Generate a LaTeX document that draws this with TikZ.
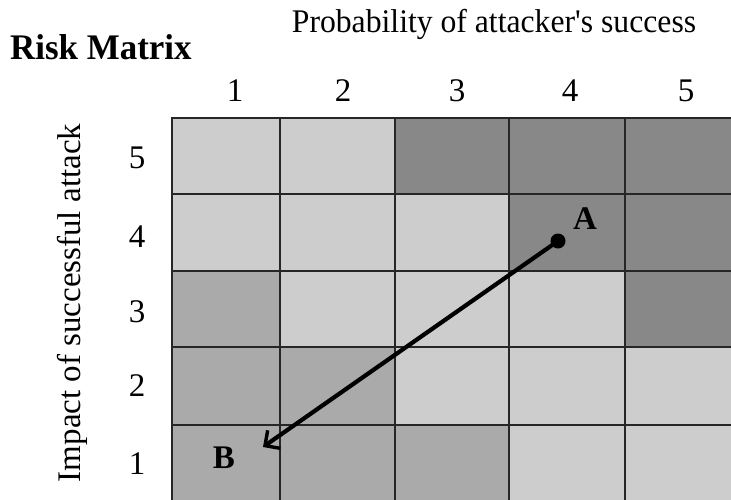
\documentclass[tikz,border=0pt]{standalone}
\usepackage{fontspec}
\setmainfont{Liberation Serif}
\newfontfamily\rawserif{Liberation Serif}
\usetikzlibrary{arrows.meta}
\definecolor{lightc}{RGB}{205,205,205}
\definecolor{midc}{RGB}{170,170,170}
\definecolor{darkc}{RGB}{136,136,136}
\tikzset{
  lab/.style={font=\fontsize{33}{38}\selectfont, inner sep=0pt},
  hlab/.style={lab, xscale=0.96},
  pt/.style={font=\fontsize{33}{38}\selectfont\bfseries, inner sep=0pt},
  cell/.style={draw=black!85, line width=1.6pt},
}
\begin{document}
\begin{tikzpicture}[x=1pt,y=-1pt]
\clip (0,0) rectangle (731,499);
\fill[white] (0,0) rectangle (731,499);
% column edges and row edges
\def\xs{{172,280,395,509,625,745}}
\def\ys{{118,194,271,347,425,510}}
% colour map rows top (5) to bottom (1): 1=light 2=mid 3=dark
\foreach \r/\cols in {0/{1,1,3,3,3},1/{1,1,1,3,3},2/{2,1,1,1,3},3/{2,2,1,1,1},4/{2,2,2,1,1}}{
  \foreach \k [count=\c from 0] in \cols {
    \pgfmathsetmacro{\xa}{\xs[\c]}
    \pgfmathsetmacro{\xb}{\xs[\c+1]}
    \pgfmathsetmacro{\ya}{\ys[\r]}
    \pgfmathsetmacro{\yb}{\ys[\r+1]}
    \ifcase\k\or
      \def\cc{lightc}\or\def\cc{midc}\or\def\cc{darkc}\fi
    \path[cell, fill=\cc] (\xa,\ya) rectangle (\xb,\yb);
  }
}
% titles
\node[font=\fontsize{36}{42}\selectfont\bfseries, inner sep=0pt, xscale=0.97, anchor=west] (title) at (10,47) {Risk Matrix};
\node[hlab, font=\rawserif\fontsize{33}{38}\selectfont] (xtitle) at (494,24) {Probability of attacker's success};
\node[lab, rotate=90] (ytitle) at (72,303) {Impact of successful attack};
% column labels
\foreach \lbl/\x in {1/235,2/343,3/457,4/570,5/686}
  \node[lab] (col\lbl) at (\x,91) {\lbl};
% row labels
\foreach \lbl/\y in {5/158,4/237,3/312,2/386,1/464}
  \node[lab] (row\lbl) at (137,\y) {\lbl};
% points
\coordinate (pA) at (558,241);
\coordinate (pB) at (263,447);
\node[pt] (labA) at (585,219) {A};
\node[pt] (labB) at (224,458) {B};
\draw[line width=4.2pt, -{Straight Barb[length=11pt,width=22pt,line width=3.4pt]}] (pA) -- (pB);
\fill[black] (pA) circle (7.5);
\end{tikzpicture}
\end{document}
